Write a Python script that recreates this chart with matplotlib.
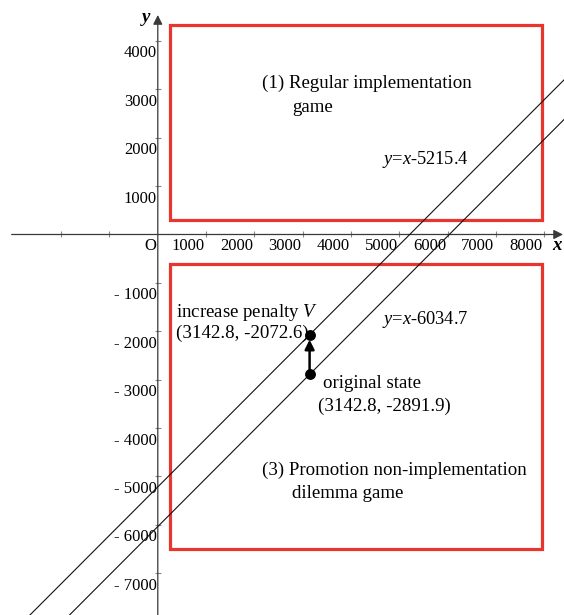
import numpy as np
import matplotlib
matplotlib.use('Agg')
import matplotlib.pyplot as plt
import matplotlib.transforms as mtransforms
from matplotlib.patches import Rectangle

# ---------------- data ----------------
x_tick_values = [1000, 2000, 3000, 4000, 5000, 6000, 7000, 8000]
x_unlabeled_ticks = [-2000, -1000]
y_tick_values = [4000, 3000, 2000, 1000, -1000, -2000, -3000, -4000, -5000, -6000, -7000]
line_intercepts = [5215.4, 6034.7]
line_labels = ['$y$=$x$-5215.4', '$y$=$x$-6034.7']
original_state = (3142.8, -2891.9)
penalty_state = (3142.8, -2072.6)
region1_box = (250, 300, 7950, 4330)     # x0, y0, x1, y1
region3_box = (250, -6500, 7950, -600)
region1_label = ['(1) Regular implementation', 'game']
region3_label = ['(3) Promotion non-implementation', 'dilemma game']
x_axis_range = (-3025, 8390)
y_axis_range = (-7950, 4535)

# ---------------- style ----------------
plt.rcParams['font.family'] = ['Liberation Serif', 'DejaVu Serif']
plt.rcParams['mathtext.fontset'] = 'custom'
plt.rcParams['mathtext.rm'] = 'Liberation Serif'
plt.rcParams['mathtext.it'] = 'Liberation Serif:italic'
RED = '#e8352e'
AXC = '#3a3a3a'
FS = 13.6
EQFS = 13.2
TFS = 12

W, H = 564, 615
fig = plt.figure(figsize=(W / 100, H / 100), dpi=100)
ax = fig.add_axes([0, 0, 1, 1])
ax.set_axis_off()
ax.set_xlim(-3267, 8410)
ax.set_ylim(-7862, 4845)

pix = mtransforms.Affine2D().scale(1, -1).translate(0, H)


def ptext(x, y, s, **kw):
    kw.setdefault('fontsize', FS)
    kw.setdefault('va', 'baseline')
    fig.text(x, y, s, transform=pix, **kw)


# axes with arrows
ax.annotate('', xy=(x_axis_range[1], 0), xytext=(x_axis_range[0], 0),
            arrowprops=dict(arrowstyle='-|>', color=AXC, lw=0.9, mutation_scale=14,
                            shrinkA=0, shrinkB=0))
ax.annotate('', xy=(0, y_axis_range[1]), xytext=(0, y_axis_range[0]),
            arrowprops=dict(arrowstyle='-|>', color=AXC, lw=0.9, mutation_scale=14,
                            shrinkA=0, shrinkB=0))

# tick marks
ax.plot(x_tick_values + x_unlabeled_ticks, [0] * (len(x_tick_values) + len(x_unlabeled_ticks)),
        ls='none', marker='|', markersize=4.5, color='#888888', mew=0.8)
ax.plot([0] * len(y_tick_values), y_tick_values,
        ls='none', marker='_', markersize=4.5, color='#888888', mew=0.8)

# tick labels
for v in x_tick_values:
    tr = mtransforms.offset_copy(ax.transData, fig=fig, x=-1.5, y=-16, units='dots')
    ax.text(v, 0, f'{v}', transform=tr, ha='right', va='baseline', fontsize=TFS)
for v in y_tick_values:
    tr = mtransforms.offset_copy(ax.transData, fig=fig, x=-1, y=-16.5, units='dots')
    lab = f'{v}' if v > 0 else f'- {abs(v)}'
    ax.text(0, v, lab, transform=tr, ha='right', va='baseline', fontsize=TFS)
tr = mtransforms.offset_copy(ax.transData, fig=fig, x=-2, y=-16, units='dots')
ax.text(0, 0, 'O', transform=tr, ha='right', va='baseline', fontsize=TFS)

# axis names
ptext(146, 22, 'y', fontsize=FS, fontweight='bold', style='italic', ha='center')
ptext(557, 250, 'x', fontsize=FS, fontweight='bold', style='italic', ha='center')

# regions
for (x0, y0, x1, y1) in [region1_box, region3_box]:
    ax.add_patch(Rectangle((x0, y0), x1 - x0, y1 - y0, fill=False,
                           edgecolor=RED, lw=2.3, joinstyle='miter', zorder=2))

# lines
xs = np.array([-3400, 8500])
for c in line_intercepts:
    ax.plot(xs, xs - c, color='#111111', lw=0.8, zorder=3)

# arrow from original state to increased penalty
ax.annotate('', xy=penalty_state, xytext=original_state,
            arrowprops=dict(arrowstyle='-|>', color='black', lw=1.8, mutation_scale=14,
                            shrinkA=0, shrinkB=3.5), zorder=4)
ax.plot([original_state[0], penalty_state[0]], [original_state[1], penalty_state[1]],
        ls='none', marker='o', markersize=6.8, color='black', zorder=5)

# texts
ptext(261.5, 88, region1_label[0])
ptext(292.5, 112, region1_label[1])
ptext(382.5, 163.5, line_labels[0], fontsize=EQFS)
ptext(176, 317, 'increase penalty $V$')
ptext(176, 338, f'({penalty_state[0]}, {penalty_state[1]})')
ptext(382, 324, line_labels[1], fontsize=EQFS)
ptext(323, 388.5, 'original state')
ptext(318, 411, f'({original_state[0]}, {original_state[1]})')
ptext(261.5, 475, region3_label[0])
ptext(292.5, 498, region3_label[1])

fig.savefig('out.png', dpi=100)
